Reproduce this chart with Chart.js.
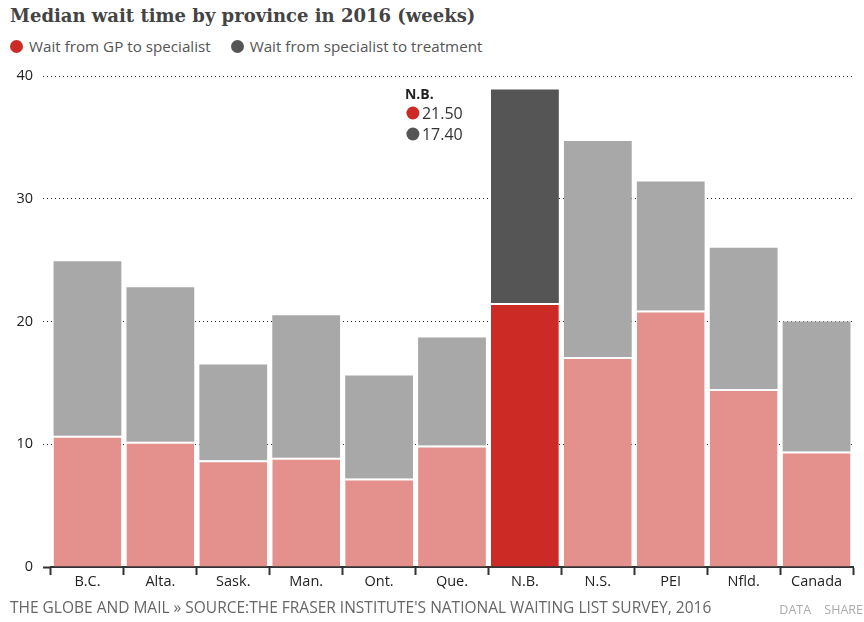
<!DOCTYPE html>
<html>
<head>
<meta charset="utf-8">
<script src="https://cdn.jsdelivr.net/npm/chart.js@4"></script>
<style>
  body { margin: 0; background: #fff; width: 864px; height: 622px; overflow: hidden; font-family: 'Open Sans', sans-serif; }
  .title { position: absolute; left: 10px; top: 5px; font: bold 18px 'DejaVu Serif', serif; color: #444; }
  .legend { position: absolute; left: 10px; top: 36px; font-size: 15.2px; color: #555; }
  .legend span { margin-right: 16px; }
  .dot { display: inline-block; width: 13px; height: 13px; border-radius: 50%; margin-right: 6px; vertical-align: -1px; }
  .footer { position: absolute; left: 10px; top: 596px; font-size: 15.5px; color: #666; }
  .links { position: absolute; right: 1px; top: 601px; font-size: 12.5px; color: #aaa; word-spacing: 10px; }
  #wrap { position: absolute; left: 0; top: 0; width: 864px; height: 622px; }
</style>
</head>
<body>
<div class="title">Median wait time by province in 2016 (weeks)</div>
<div class="legend">
  <span><i class="dot" style="background:#cc2a24"></i>Wait from GP to specialist</span>
  <span><i class="dot" style="background:#555"></i>Wait from specialist to treatment</span>
</div>
<div id="wrap"><canvas id="chart"></canvas></div>
<div class="footer">THE GLOBE AND MAIL » SOURCE:THE FRASER INSTITUTE'S NATIONAL WAITING LIST SURVEY, 2016</div>
<div class="links">DATA SHARE</div>
<script>
const provinces = ['B.C.', 'Alta.', 'Sask.', 'Man.', 'Ont.', 'Que.', 'N.B.', 'N.S.', 'PEI', 'Nfld.', 'Canada'];
const gpToSpecialist = [10.7, 10.2, 8.7, 8.9, 7.2, 9.9, 21.5, 17.1, 20.9, 14.5, 9.4];
const specialistToTreatment = [14.2, 12.6, 7.8, 11.6, 8.4, 8.8, 17.4, 17.6, 10.5, 11.5, 10.6];
const yTicks = [0, 10, 20, 30, 40];
const highlight = 'N.B.';

const hiIndex = provinces.indexOf(highlight);
const gpColors = provinces.map((p, i) => i === hiIndex ? '#cc2a24' : '#e4908d');
const treatColors = provinces.map((p, i) => i === hiIndex ? '#555555' : '#a8a8a8');

// little label box next to the highlighted bar
const highlightLabel = {
    id: 'highlightLabel',
    afterDatasetsDraw(chart) {
        const el = chart.getDatasetMeta(0).data[hiIndex];
        if (!el) return;
        const ctx = chart.ctx;
        const x = el.x - 120;
        const top = chart.chartArea.top;
        ctx.save();
        ctx.textBaseline = 'middle';
        ctx.fillStyle = '#222';
        ctx.font = 'bold 14px "Open Sans", sans-serif';
        ctx.fillText(highlight, x, top + 19);
        const rows = [
            [gpToSpecialist[hiIndex], '#cc2a24'],
            [specialistToTreatment[hiIndex], '#555555']
        ];
        rows.forEach((row, i) => {
            const y = top + 37 + i * 21;
            ctx.fillStyle = row[1];
            ctx.beginPath();
            ctx.arc(x + 8, y, 6.5, 0, Math.PI * 2);
            ctx.fill();
            ctx.fillStyle = '#333';
            ctx.font = '16px "Open Sans", sans-serif';
            ctx.fillText(row[0].toFixed(2), x + 17, y + 1);
        });
        ctx.restore();
    }
};

new Chart(document.getElementById('chart'), {
    type: 'bar',
    data: {
        labels: provinces,
        datasets: [{
            label: 'Wait from GP to specialist',
            data: gpToSpecialist,
            backgroundColor: gpColors,
            borderColor: 'rgba(255,255,255,0.85)',
            borderWidth: { top: 2, right: 0, bottom: 0, left: 0 },
            borderSkipped: false,
            barPercentage: 0.93,
            categoryPercentage: 1
        }, {
            label: 'Wait from specialist to treatment',
            data: specialistToTreatment,
            backgroundColor: treatColors,
            borderWidth: 0,
            barPercentage: 0.93,
            categoryPercentage: 1
        }]
    },
    options: {
        responsive: true,
        maintainAspectRatio: false,
        animation: false,
        layout: { padding: { top: 76, left: 10, right: 11, bottom: 25 } },
        plugins: {
            legend: { display: false },
            tooltip: { enabled: false }
        },
        scales: {
            x: {
                stacked: true,
                afterFit: (scale) => { scale.height = 30; },
                border: { display: true, color: '#333', width: 2 },
                grid: {
                    display: true,
                    offset: true,
                    drawOnChartArea: false,
                    drawTicks: true,
                    tickLength: 8,
                    tickColor: '#333',
                    tickWidth: 2
                },
                ticks: {
                    color: '#222',
                    padding: -2,
                    font: { family: 'Open Sans', size: 14.5 }
                }
            },
            y: {
                stacked: true,
                min: 0,
                max: 40,
                z: 1,
                afterFit: (scale) => { scale.width = 41; },
                afterBuildTicks: (scale) => { scale.ticks = yTicks.map(v => ({ value: v })); },
                border: { display: false, dash: [1, 3] },
                grid: {
                    color: (c) => c.tick && c.tick.value === 0 ? 'rgba(0,0,0,0)' : '#333',
                    lineWidth: 1,
                    tickLength: 8,
                    tickWidth: (c) => c.tick && c.tick.value === 0 ? 2 : 1,
                    tickColor: '#333',
                    tickBorderDash: (c) => c.tick && c.tick.value === 0 ? [] : [1, 3]
                },
                ticks: {
                    color: '#222',
                    padding: 10,
                    font: { family: 'Open Sans', size: 14.5 }
                }
            }
        }
    },
    plugins: [highlightLabel]
});
</script>
</body>
</html>
